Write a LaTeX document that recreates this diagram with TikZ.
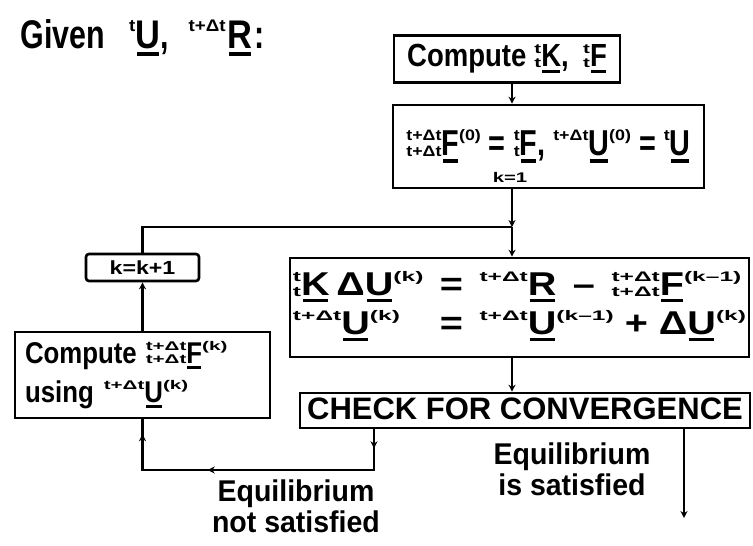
\documentclass[tikz,border=0pt]{standalone}
\usepackage{fontspec}
\usepackage{graphicx}
\usetikzlibrary{arrows.meta,decorations.markings}

\setmainfont{Liberation Sans}
\newfontfamily\givenfont{Liberation Sans Bold}[FakeStretch=0.76]
\newfontfamily\initfont{Liberation Sans Bold}[FakeStretch=0.8]
\newfontfamily\boxfont{Liberation Sans Bold}[FakeStretch=0.86]
\newfontfamily\solvefont{Liberation Sans Bold}[FakeStretch=1.2]
\newfontfamily\capsfont{Liberation Sans Bold}
\newfontfamily\notefont{Liberation Sans Bold}[FakeStretch=0.95]

% width factor of the small scripts (set again in some nodes)
\def\scrh{0.62}
% underlined letter (vector)
\newcommand{\ubar}[1]{\setbox0\hbox{#1}\rlap{\kern0.06\wd0\rule[-0.2em]{0.88\wd0}{0.09em}}\box0}
% left superscript, and left super- and subscript
\newcommand{\psup}[1]{\raisebox{0.42em}{\scalebox{\scrh}[0.42]{#1}}}
\newcommand{\pss}[2]{\ooalign{\hfil\raisebox{0.42em}{\scalebox{\scrh}[0.42]{#1}}\cr\hfil\raisebox{-0.02em}{\scalebox{\scrh}[0.42]{#2}}\cr}}

\begin{document}
\begin{tikzpicture}[x=1pt, y=-1pt]
    \tikzset{
        box/.style={draw, line width=2.6pt, inner sep=3pt},
        link/.style={line width=2.1pt},
        flow/.style={link, -{Stealth[length=7pt,width=7pt]}},
        loopmarks/.style={postaction={decorate}, decoration={markings,
            mark=at position 19pt with {\arrow{Stealth[length=7pt,width=7pt]}},
            mark=at position 207pt with {\arrow{Stealth[length=7pt,width=7pt]}},
            mark=at position 308pt with {\arrow{Stealth[length=7pt,width=7pt]}}}}
    }
    \useasboundingbox (0,0) rectangle (753,546);

    % Start values
    \node[anchor=base west, font=\givenfont\fontsize{40}{40}\selectfont] (given) at (17,48)
        {Given\hspace{0.6em}\psup{t}\ubar{\boxfont U},\hspace{0.5em}\psup{t+Δt}\hspace{2pt}\ubar{\boxfont R}\hspace{2pt}:};

    % Boxes of the iteration
    \node[box, minimum width=226pt, minimum height=47pt, font=\boxfont\fontsize{32}{36}\selectfont\def\scrh{0.75}] (cmpKF) at (507,59)
        {\raisebox{-3pt}{Compute\hspace{0.25em}\pss{t}{t}\ubar{K},\hspace{0.45em}\pss{t}{t}\ubar{F}}};
    \node[box, minimum width=311pt, minimum height=83pt, font=\initfont\fontsize{36}{40}\selectfont] (init) at (548.5,146.5)
        {\raisebox{8pt}{\pss{t+Δt}{t+Δt}\ubar{F}\psup{(0)} = \pss{t}{t}\ubar{F}, \psup{t+Δt}\ubar{U}\psup{(0)} = \psup{t}\ubar{U}}};
    \node[font=\capsfont\fontsize{14}{14}\selectfont] (kone) at (510,177) {\scalebox{1.45}[1]{k=1}};
    \node[box, rounded corners=3pt, minimum width=113pt, minimum height=27pt, inner sep=0pt, font=\capsfont\fontsize{19}{19}\selectfont] (incK) at (142.5,267.5)
        {\scalebox{1.22}[1]{k=k+1}};
    \node[box, minimum width=457pt, minimum height=99pt, font=\solvefont\fontsize{33}{39}\selectfont] (solve) at (519.5,307.5)
        {\raisebox{5pt}{\begin{tabular}{@{}l@{\enspace=\enspace}l@{}}
            \pss{t}{t}\ubar{K}\hspace{0.2em}Δ\ubar{U}\psup{(k)} & \psup{t+Δt}\ubar{R}\enspace–\enspace\pss{t+Δt}{t+Δt}\ubar{F}\psup{(k–1)}\\
            \psup{t+Δt}\ubar{U}\psup{(k)} & \psup{t+Δt}\ubar{U}\psup{(k–1)} + Δ\ubar{U}\psup{(k)}
         \end{tabular}}};
    \node[box, minimum width=255pt, minimum height=86pt, inner xsep=10pt, text width=235pt, align=left, font=\boxfont\fontsize{30}{39}\selectfont\def\scrh{0.8}] (cmpF) at (142.5,375)
        {Compute\hspace{0.3em}\pss{t+Δt}{t+Δt}\ubar{F}\psup{(k)}\\using \psup{t+Δt}\ubar{U}\psup{(k)}};
    \node[box, minimum width=450pt, minimum height=35pt, inner sep=0pt, font=\capsfont\fontsize{31}{31}\selectfont] (check) at (525,410.5)
        {\raisebox{3pt}{CHECK FOR CONVERGENCE}};

    % Branch labels
    \node[align=center, font=\notefont\fontsize{30}{31}\selectfont] (fail) at (296,506) {Equilibrium\\not satisfied};
    \node[align=center, font=\notefont\fontsize{30}{31}\selectfont] (pass) at (572,469) {Equilibrium\\is satisfied};

    % Connectors
    \coordinate (join) at (512,227);
    \coordinate (back) at (374,470);
    \coordinate (done) at (684,518);

    \draw[flow] (cmpKF.south -| join) -- (init.north -| join);
    \draw[flow] (init.south -| join) -- (join);
    \draw[flow] (join) -- (solve.north -| join);
    \draw[flow] (solve.south -| join) -- (check.north -| join);
    \draw[flow] (cmpF.north) -- (incK.south);
    \draw[link] (incK.north) |- (join);
    \draw[link, loopmarks] (check.south -| back) -- (back) -| (cmpF.south);
    \draw[flow] (check.south -| done) -- (done);

\end{tikzpicture}
\end{document}
